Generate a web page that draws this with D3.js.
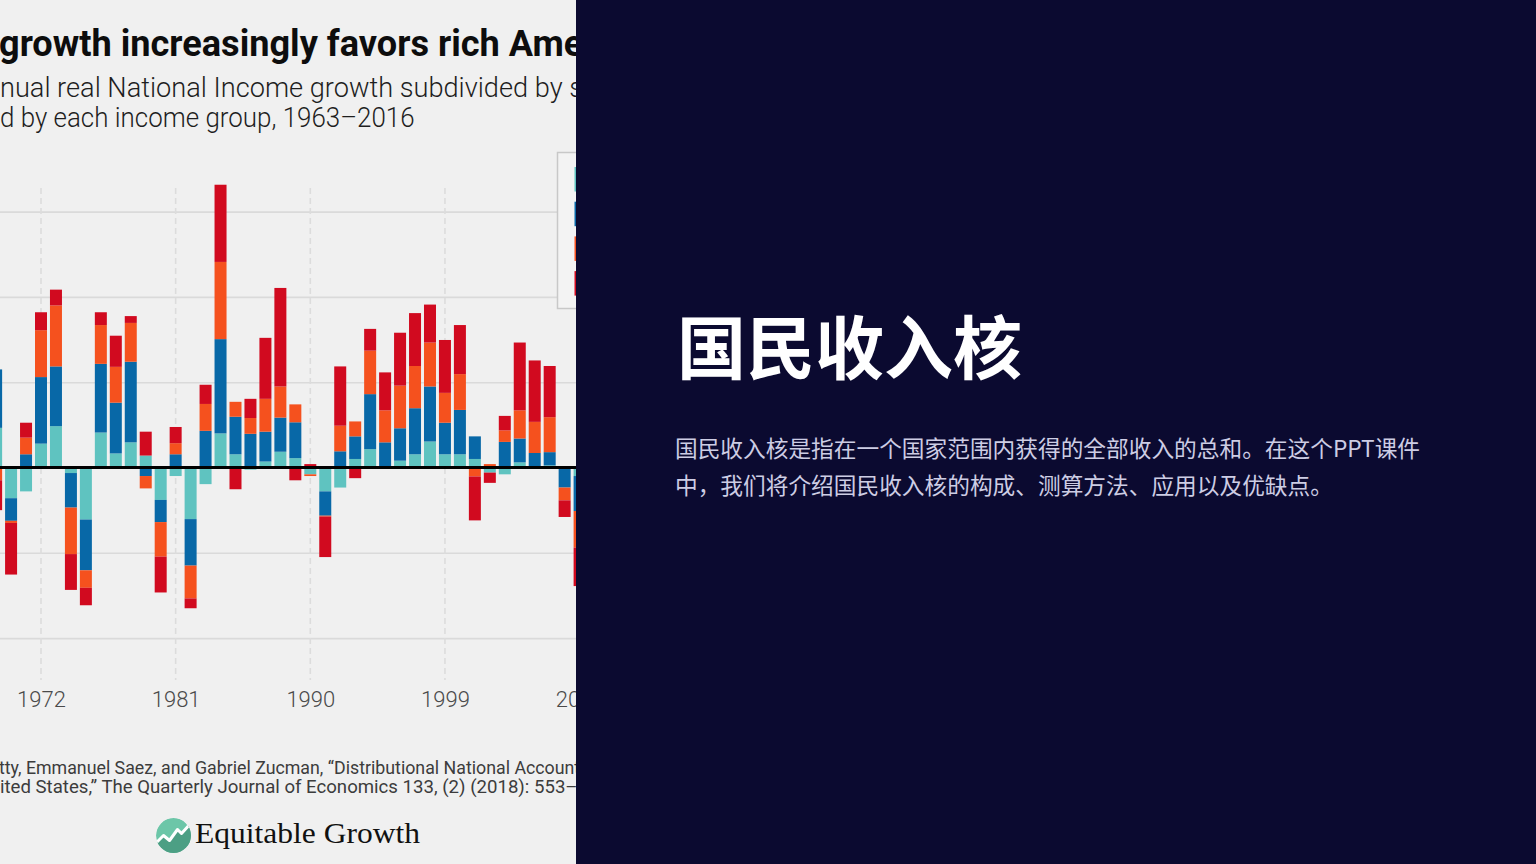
<!DOCTYPE html>
<html>
<head>
<meta charset="utf-8">
<script src="https://cdn.jsdelivr.net/npm/d3@7"></script>
<style>
    html, body { margin: 0; padding: 0; background: #0b0a30; overflow: hidden; }
    svg { display: block; }
</style>
</head>
<body>
<script>
// values, share of growth in % points
const years = [1969, 1970, 1971, 1972, 1973, 1974, 1975, 1976, 1977, 1978,
    1979, 1980, 1981, 1982, 1983, 1984, 1985, 1986, 1987, 1988,
    1989, 1990, 1991, 1992, 1993, 1994, 1995, 1996, 1997, 1998,
    1999, 2000, 2001, 2002, 2003, 2004, 2005, 2006, 2007, 2008];
const bottom50 = [0.93, -0.72, -0.56, 0.56, 0.97, -0.13, -1.22, 0.82, 0.33, 0.59,
    0.28, -0.76, -0.2, -1.21, -0.39, 0.8, 0.31, -0.05, 0.14, 0.37,
    0.22, -0.16, -0.56, -0.47, 0.2, 0.43, 0.02, 0.16, 0.31, 0.61,
    0.31, 0.31, 0.2, -0.12, -0.16, 0.12, 0.0, 0.05, 0.03, -0.2];
const middle40 = [1.37, -0.53, 0.31, 1.56, 1.4, -0.81, -1.19, 1.61, 1.19, 1.89,
    -0.2, -0.52, 0.31, -1.09, 0.86, 2.21, 0.88, 0.79, 0.7, 0.8,
    0.84, 0.02, -0.57, 0.38, 0.53, 1.29, 0.57, 0.76, 1.08, 1.29,
    0.74, 1.04, 0.53, 0.0, 0.6, 0.56, 0.34, 0.31, -0.47, -0.82];
const next9 = [-0.3, -0.05, 0.39, 1.1, 1.43, -1.09, -0.41, 0.91, 0.84, 0.91,
    -0.29, -0.81, 0.26, -0.77, 0.63, 1.81, 0.35, 0.37, 0.77, 0.73,
    0.42, -0.04, -0.02, 0.6, 0.35, 1.02, 0.75, 1.0, 0.99, 1.03,
    0.7, 0.84, -0.21, 0.08, 0.27, 0.66, 0.73, 0.82, -0.3, -0.86];
const top1 = [-0.7, -1.21, 0.35, 0.42, 0.37, -0.84, -0.41, 0.3, 0.73, 0.16,
    0.56, -0.84, 0.38, -0.23, 0.45, 1.81, -0.51, 0.45, 1.43, 2.31,
    -0.3, 0.06, -0.95, 1.39, -0.25, 0.51, 0.89, 1.24, 1.24, 0.89,
    1.24, 1.15, -1.03, -0.24, 0.34, 1.59, 1.44, 1.2, -0.39, -0.9];

const groups = ["Bottom 50%", "Middle 40%", "Next 9%", "Top 1%"];
const groupColors = ["#5fc3c0", "#0868a7", "#f5511e", "#d10a1f"];
const tickYears = [1972, 1981, 1990, 1999, 2008];
const gridTicks = [-4, -2, 2, 4, 6];

const W = 1536, H = 864, panelW = 576;

const svg = d3.select("body").append("svg")
    .attr("width", W)
    .attr("height", H);

svg.append("defs").append("clipPath")
    .attr("id", "leftClip")
    .append("rect")
    .attr("width", panelW)
    .attr("height", H);

const left = svg.append("g").attr("clip-path", "url(#leftClip)");
left.append("rect").attr("width", panelW).attr("height", H).attr("fill", "#f0f0f0");

const x = d3.scaleLinear().domain([1972, 2008]).range([41, 579.6]);
const y = d3.scaleLinear().domain([-4, 6]).range([638.1, 211.6]);
const color = d3.scaleOrdinal().domain(groups).range(groupColors);

// helper: squeeze a text so the visible part has the width seen in the picture
function fitText(parent, o) {
    const t = parent.append("text")
        .attr("font-family", o.font)
        .attr("font-size", o.size)
        .attr("font-weight", o.weight || 400)
        .attr("fill", o.fill)
        .text(o.visible);
    const wv = t.node().getComputedTextLength();
    let wp = 0;
    if (o.prefix) {
        t.text(o.prefix);
        wp = t.node().getComputedTextLength();
    }
    const s = o.width / wv;
    t.text(o.full).attr("transform", `translate(${o.x - wp * s},${o.y}) scale(${s},1)`);
    return t;
}

// gridlines
const grid = left.append("g")
    .call(d3.axisLeft(y).tickValues(gridTicks).tickSize(-620).tickFormat(""));
grid.select(".domain").remove();
grid.selectAll("line").attr("stroke", "#dadada").attr("stroke-width", 1.6);

// dashed year lines
left.append("g")
    .selectAll("line")
    .data(tickYears)
    .join("line")
    .attr("x1", (d) => x(d))
    .attr("x2", (d) => x(d))
    .attr("y1", 188)
    .attr("y2", 680)
    .attr("stroke", "#dcdcdc")
    .attr("stroke-width", 1.6)
    .attr("stroke-dasharray", "6,4");

// stacked bars
const rows = years.map((yr, i) => ({
    year: yr,
    "Bottom 50%": bottom50[i],
    "Middle 40%": middle40[i],
    "Next 9%": next9[i],
    "Top 1%": top1[i],
}));
const series = d3.stack().keys(groups).offset(d3.stackOffsetDiverging)(rows);

left.append("g")
    .selectAll("g")
    .data(series)
    .join("g")
    .attr("fill", (d) => color(d.key))
    .selectAll("rect")
    .data((d) => d)
    .join("rect")
    .attr("x", (d) => x(d.data.year) - 6)
    .attr("width", 12)
    .attr("y", (d) => y(Math.max(d[0], d[1])))
    .attr("height", (d) => Math.abs(y(d[0]) - y(d[1])));

// zero line
left.append("line")
    .attr("x1", 0)
    .attr("x2", panelW)
    .attr("y1", y(0))
    .attr("y2", y(0))
    .attr("stroke", "#000")
    .attr("stroke-width", 3);

// x axis labels
const xAxis = left.append("g")
    .attr("transform", "translate(0,688)")
    .call(d3.axisBottom(x).tickValues(tickYears).tickFormat(d3.format("d")).tickSize(0));
xAxis.select(".domain").remove();
xAxis.selectAll("text")
    .attr("font-family", "Roboto, 'DejaVu Sans', sans-serif")
    .attr("font-weight", 300)
    .attr("font-size", 22)
    .attr("fill", "#4a4a4a");

// legend (labels fall outside the crop)
const legend = left.append("g");
legend.append("rect")
    .attr("x", 557.5)
    .attr("y", 152.5)
    .attr("width", 200)
    .attr("height", 156)
    .attr("fill", "#f3f3f3")
    .attr("stroke", "#c8c8c8")
    .attr("stroke-width", 1.5);
legend.selectAll(".swatch")
    .data(groups)
    .join("rect")
    .attr("class", "swatch")
    .attr("x", 574.5)
    .attr("y", (d, i) => 167 + i * 34.7)
    .attr("width", 12)
    .attr("height", 24.5)
    .attr("fill", (d) => color(d));

// title & subtitle
fitText(left, {
    font: "Roboto, sans-serif", size: 37, weight: 700, fill: "#0d0d0d",
    full: "growth increasingly favors rich Americans",
    visible: "growth increasingly favors rich", prefix: "",
    x: -1, y: 56, width: 501,
});
fitText(left, {
    font: "Roboto, sans-serif", size: 28, weight: 300, fill: "#1e1e1e",
    full: "Annual real National Income growth subdivided by share",
    visible: "nual real National Income growth subdivided by", prefix: "An",
    x: 0, y: 97, width: 563,
});
fitText(left, {
    font: "Roboto, sans-serif", size: 28, weight: 300, fill: "#1e1e1e",
    full: "captured by each income group, 1963–2016",
    visible: "d by each income group, 1963–2016", prefix: "capture",
    x: 0, y: 127, width: 415,
});

// source
fitText(left, {
    font: "Roboto, sans-serif", size: 19, weight: 400, fill: "#3c3c3c",
    full: "Source: Thomas Piketty, Emmanuel Saez, and Gabriel Zucman, “Distributional National Accounts: Methods and Estimates for the",
    visible: "tty, Emmanuel Saez, and Gabriel Zucman, “Distributional National Accou", prefix: "Source: Thomas Pike",
    x: -1, y: 774, width: 566,
});
fitText(left, {
    font: "Roboto, sans-serif", size: 19, weight: 400, fill: "#3c3c3c",
    full: "United States,” The Quarterly Journal of Economics 133, (2) (2018): 553–609.",
    visible: "ited States,” The Quarterly Journal of Economics 133, (2) (2018): 553", prefix: "Un",
    x: 0, y: 793, width: 566,
});

// logo
const logo = left.append("g").attr("transform", "translate(173.5,835.5)");
logo.append("clipPath").attr("id", "logoClip").append("circle").attr("r", 17.5);
const lg = logo.append("g").attr("clip-path", "url(#logoClip)");
lg.append("circle").attr("r", 17.5).attr("fill", "#6cc6a8");
const zig = [[-18, 8], [-10, 0], [-4, 5], [4, -6], [8, -2], [18, -13]];
lg.append("path")
    .attr("d", d3.line()(zig.concat([[18, 18], [-18, 18]])))
    .attr("fill", "#4c9f84");
lg.append("path")
    .attr("d", d3.line()(zig))
    .attr("fill", "none")
    .attr("stroke", "#fff")
    .attr("stroke-width", 3)
    .attr("stroke-linejoin", "round");
fitText(left, {
    font: "'Liberation Serif', 'DejaVu Serif', serif", size: 30, weight: 400, fill: "#111",
    full: "Equitable Growth", visible: "Equitable Growth", prefix: "",
    x: 195, y: 843, width: 225,
});

// right panel
svg.append("rect")
    .attr("x", panelW)
    .attr("width", W - panelW)
    .attr("height", H)
    .attr("fill", "#0b0a30");

svg.append("text")
    .attr("x", 677)
    .attr("y", 374)
    .attr("font-family", "'Noto Sans CJK SC', sans-serif")
    .attr("font-weight", 700)
    .attr("font-size", 69)
    .attr("fill", "#ffffff")
    .text("国民收入核");

const para = ["国民收入核是指在一个国家范围内获得的全部收入的总和。在这个PPT课件",
    "中，我们将介绍国民收入核的构成、测算方法、应用以及优缺点。"];
svg.append("g")
    .selectAll("text")
    .data(para)
    .join("text")
    .attr("x", 675)
    .attr("y", (d, i) => 457 + i * 37)
    .attr("font-family", "'Noto Sans CJK SC', sans-serif")
    .attr("font-size", 22.7)
    .attr("fill", "#cdcde4")
    .text((d) => d);
</script>
</body>
</html>
